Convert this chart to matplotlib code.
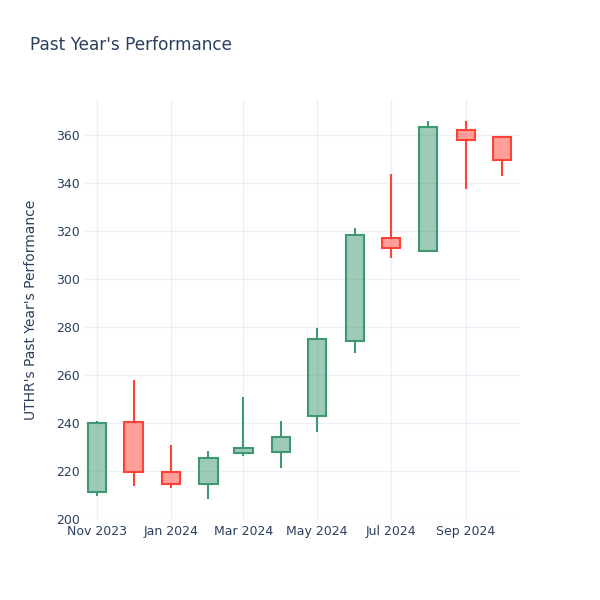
import matplotlib
matplotlib.use("Agg")
import matplotlib.pyplot as plt
import matplotlib.dates as mdates
from matplotlib.patches import Rectangle
import datetime as dt

# Monthly OHLC
months = ["2023-11-01", "2023-12-01", "2024-01-01", "2024-02-01", "2024-03-01", "2024-04-01",
          "2024-05-01", "2024-06-01", "2024-07-01", "2024-08-01", "2024-09-01", "2024-10-01"]
opens = [211.4, 240.5, 219.7, 214.6, 227.6, 227.8, 242.9, 274.3, 317.2, 311.8, 362.2, 359.3]
highs = [241.0, 257.9, 230.7, 228.5, 250.7, 241.0, 279.6, 321.5, 343.8, 365.8, 365.8, 359.3]
lows = [209.7, 213.9, 213.1, 208.5, 226.4, 221.4, 236.4, 269.3, 308.9, 311.8, 337.4, 343.0]
closes = [239.9, 219.7, 214.4, 225.4, 229.7, 234.0, 275.0, 318.5, 313.0, 363.5, 357.9, 349.6]

up_color = "#3D9970"
down_color = "#FF4136"
text_color = "#2a3f5f"
grid_color = "#EBF0F8"

dates = [dt.datetime.strptime(m, "%Y-%m-%d") for m in months]
xs = mdates.date2num(dates)
box_w = 15  # days

fig = plt.figure(figsize=(6, 6), dpi=100)
ax = fig.add_axes([0.142, 0.135, 0.725, 0.698])

for x, o, h, l, c in zip(xs, opens, highs, lows, closes):
    col = up_color if c >= o else down_color
    lo_b, hi_b = min(o, c), max(o, c)
    ax.plot([x, x], [hi_b, h], color=col, lw=1.5, solid_capstyle="butt", zorder=3)
    ax.plot([x, x], [l, lo_b], color=col, lw=1.5, solid_capstyle="butt", zorder=3)
    ax.add_patch(Rectangle((x - box_w / 2, lo_b), box_w, hi_b - lo_b,
                           facecolor=col, alpha=0.5, edgecolor="none", zorder=3))
    ax.add_patch(Rectangle((x - box_w / 2, lo_b), box_w, hi_b - lo_b,
                           facecolor="none", edgecolor=col, lw=1.5, zorder=4))

ax.set_xlim(mdates.date2num(dt.datetime(2023, 10, 22)), mdates.date2num(dt.datetime(2024, 10, 16)))
ax.set_ylim(200, 374.6)
ax.set_yticks(range(200, 361, 20))

tick_dates = [dt.datetime(2023, 11, 1), dt.datetime(2024, 1, 1), dt.datetime(2024, 3, 1),
              dt.datetime(2024, 5, 1), dt.datetime(2024, 7, 1), dt.datetime(2024, 9, 1)]
ax.set_xticks(mdates.date2num(tick_dates))
ax.set_xticklabels([d.strftime("%b %Y") for d in tick_dates])

for s in ax.spines.values():
    s.set_visible(False)
ax.grid(True, color=grid_color, lw=1)
ax.set_axisbelow(True)
ax.tick_params(length=0, labelsize=9, labelcolor=text_color, pad=4)

ax.set_ylabel("UTHR's Past Year's Performance", color=text_color, fontsize=10, labelpad=13)
fig.text(0.05, 0.925, "Past Year's Performance", color=text_color, fontsize=12.2, va="center")

fig.savefig("out.png", dpi=100)
